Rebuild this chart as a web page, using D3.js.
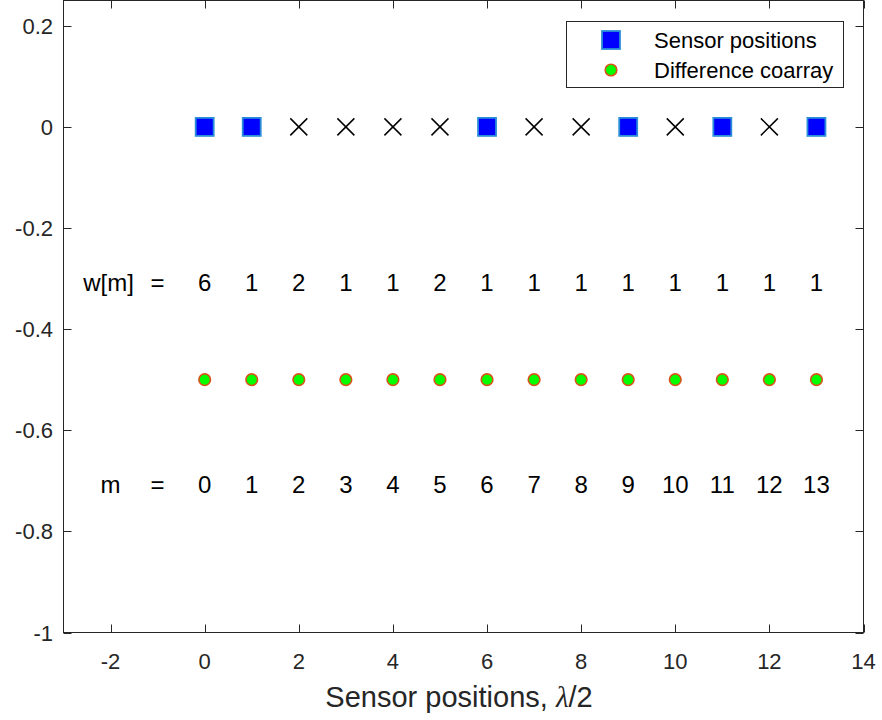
<!DOCTYPE html>
<html>
<head>
<meta charset="utf-8">
<script src="https://cdn.jsdelivr.net/npm/d3@7"></script>
<style>
  html, body { margin: 0; padding: 0; background: #ffffff; }
  svg { display: block; font-family: "Liberation Sans", Arial, Helvetica, sans-serif; }
</style>
</head>
<body>
<svg id="chart" width="882" height="720"></svg>
<script>
// Physical sensor locations (units of lambda/2) and the unoccupied grid points
const sensorPositions = [0, 1, 6, 9, 11, 13];
const emptyPositions = [2, 3, 4, 5, 7, 8, 10, 12];

// Difference coarray lags m and their weight function w[m]
const lags = [0, 1, 2, 3, 4, 5, 6, 7, 8, 9, 10, 11, 12, 13];
const weights = [6, 1, 2, 1, 1, 2, 1, 1, 1, 1, 1, 1, 1, 1];

// Vertical placement of each row (data units)
const sensorRowY = 0;
const weightRowY = -0.3;
const coarrayRowY = -0.5;
const lagRowY = -0.7;

// Axis ticks
const xTicks = [-2, 0, 2, 4, 6, 8, 10, 12, 14];
const yTicks = [-1, -0.8, -0.6, -0.4, -0.2, 0, 0.2];

const legendLabels = ["Sensor positions", "Difference coarray"];

const svg = d3.select("#chart");
const axisColor = "#262626";

const x = d3.scaleLinear().domain([-3, 14]).range([63.5, 863.5]);
const y = d3.scaleLinear().domain([-1, 0.25]).range([632.5, 0.5]);

const tickLen = 8;

// Box axes with inward ticks on all four sides
const axes = svg.append("g");
axes.append("rect")
  .attr("x", x(-3)).attr("y", y(0.25))
  .attr("width", x(14) - x(-3)).attr("height", y(-1) - y(0.25))
  .attr("fill", "none").attr("stroke", axisColor).attr("stroke-width", 1);

xTicks.forEach(t => {
  const px = Math.round(x(t)) + 0.5;
  axes.append("line").attr("x1", px).attr("x2", px)
    .attr("y1", y(-1)).attr("y2", y(-1) - tickLen)
    .attr("stroke", axisColor);
  axes.append("line").attr("x1", px).attr("x2", px)
    .attr("y1", y(0.25)).attr("y2", y(0.25) + tickLen)
    .attr("stroke", axisColor);
  axes.append("text")
    .attr("x", x(t)).attr("y", 669)
    .attr("text-anchor", "middle")
    .attr("font-size", 22).attr("fill", axisColor)
    .text(String(t));
});

yTicks.forEach(t => {
  const py = Math.round(y(t)) + 0.5;
  axes.append("line").attr("x1", x(-3)).attr("x2", x(-3) + tickLen)
    .attr("y1", py).attr("y2", py).attr("stroke", axisColor);
  axes.append("line").attr("x1", x(14)).attr("x2", x(14) - tickLen)
    .attr("y1", py).attr("y2", py).attr("stroke", axisColor);
  axes.append("text")
    .attr("x", 53).attr("y", y(t) + 8)
    .attr("text-anchor", "end")
    .attr("font-size", 22).attr("fill", axisColor)
    .text(t === 0 ? "0" : String(t));
});

// X axis label with italic lambda
const xl = svg.append("text")
  .attr("x", 459).attr("y", 707)
  .attr("text-anchor", "middle")
  .attr("font-size", 29).attr("fill", axisColor);
xl.append("tspan").text("Sensor positions,  ");
xl.append("tspan")
  .attr("font-family", "'Liberation Serif', 'DejaVu Serif', serif")
  .attr("font-style", "italic").text("\u03BB");
xl.append("tspan").text("/2");

// Marker drawing helpers
const sq = 18;
function drawSquare(g, cx, cy) {
  g.append("rect")
    .attr("x", cx - sq / 2).attr("y", cy - sq / 2)
    .attr("width", sq).attr("height", sq)
    .attr("fill", "#0000ff").attr("stroke", "#2a8fd8").attr("stroke-width", 1.8);
}
function drawCircle(g, cx, cy) {
  g.append("circle")
    .attr("cx", cx).attr("cy", cy).attr("r", 5.8)
    .attr("fill", "#00ff00").attr("stroke", "#d95319").attr("stroke-width", 1.6);
}
const cr = 8.5;
function drawCross(g, cx, cy) {
  g.append("path")
    .attr("d", `M${cx - cr},${cy - cr}L${cx + cr},${cy + cr}M${cx - cr},${cy + cr}L${cx + cr},${cy - cr}`)
    .attr("stroke", "#000000").attr("stroke-width", 1.5).attr("fill", "none");
}

const marks = svg.append("g");
sensorPositions.forEach(p => drawSquare(marks, x(p), y(sensorRowY)));
emptyPositions.forEach(p => drawCross(marks, x(p), y(sensorRowY)));
lags.forEach(m => drawCircle(marks, x(m), y(coarrayRowY)));

// Annotation rows: weight function and lag indices
const rowFont = 24;
const ann = svg.append("g").attr("font-size", rowFont).attr("fill", "#000000")
  .attr("text-anchor", "middle");
ann.append("text").attr("x", x(-2) - 2).attr("y", y(weightRowY) + 12).text("w[m]");
ann.append("text").attr("x", x(-1)).attr("y", y(weightRowY) + 12).text("=");
weights.forEach((w, i) => {
  ann.append("text").attr("x", x(lags[i])).attr("y", y(weightRowY) + 12).text(w);
});
ann.append("text").attr("x", x(-2)).attr("y", y(lagRowY) + 12).text("m");
ann.append("text").attr("x", x(-1)).attr("y", y(lagRowY) + 12).text("=");
lags.forEach(m => {
  ann.append("text").attr("x", x(m)).attr("y", y(lagRowY) + 12).text(m);
});

// Legend
const leg = svg.append("g");
leg.append("rect")
  .attr("x", 566.5).attr("y", 21.5).attr("width", 277).attr("height", 66)
  .attr("fill", "#ffffff").attr("stroke", axisColor).attr("stroke-width", 1);
drawSquare(leg, 611, 40);
drawCircle(leg, 611, 70);
legendLabels.forEach((lbl, i) => {
  leg.append("text")
    .attr("x", 654).attr("y", 40 + i * 30 + 8)
    .attr("font-size", 22).attr("fill", "#000000")
    .text(lbl);
});
</script>
</body>
</html>
